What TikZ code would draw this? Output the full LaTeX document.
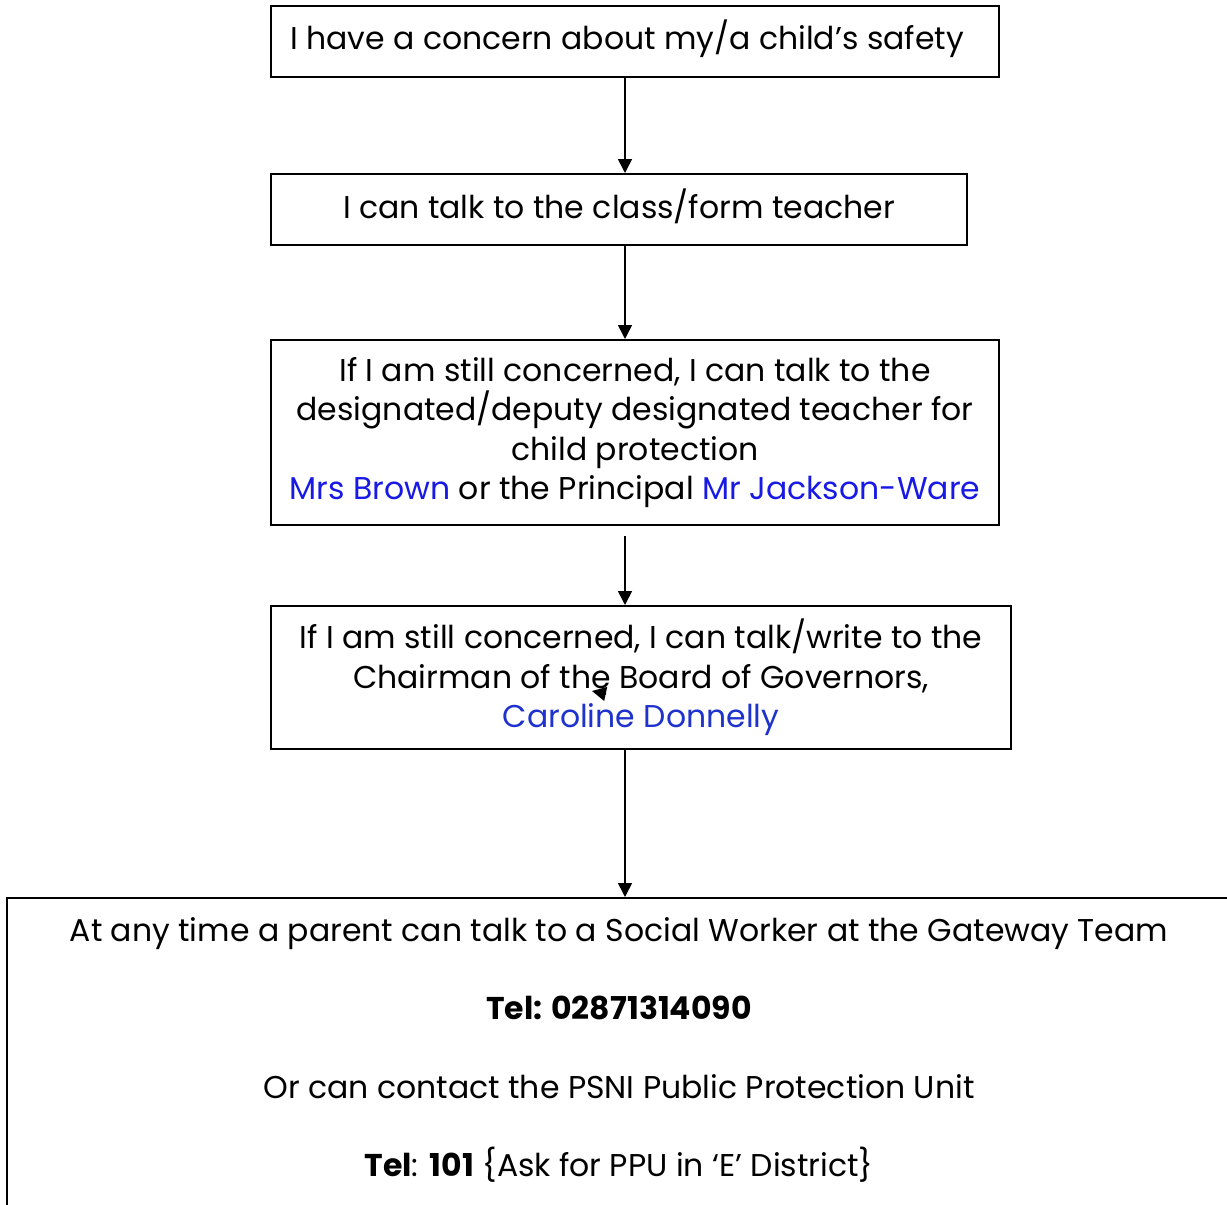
\documentclass[tikz,border=0pt]{standalone}
\usepackage{fontspec}
\setmainfont{Poppins}
\usetikzlibrary{arrows.meta}
\definecolor{namecol}{RGB}{25,25,230}
\definecolor{chaircol}{RGB}{30,50,205}

\tikzset{
  stage/.style={draw, line width=1pt, align=center, inner sep=0pt,
    font=\fontsize{15.75}{19.75}\selectfont},
  flow/.style={-{Triangle[length=7pt,width=7pt]}, line width=0.8pt},
}

\begin{document}
\begin{tikzpicture}[x=0.5pt, y=-0.5pt]
  \clip (0,0) rectangle (1227,1205);
  \coordinate (spine) at (625,0);
  % steps
  \node[stage, minimum width=364pt, minimum height=35.5pt] (concern) at (635,41.5)
    {\raisebox{1.5pt}[\height][\depth]{I have a concern about my/a child’s safety}\hspace*{8pt}};
  \node[stage, minimum width=348pt, minimum height=35.5pt] (teacher) at (619,209.5)
    {\raisebox{1.75pt}[\height][\depth]{I can talk to the class/form teacher}};
  \node[stage, minimum width=364pt, minimum height=92.5pt] (designated) at (635,432.5)
    {If I am still concerned, I can talk to the\\
     designated/deputy designated teacher for\\
     child protection\\
     \textcolor{namecol}{Mrs Brown} or the Principal \textcolor{namecol}{Mr Jackson-Ware}};
  \node[stage, minimum width=370pt, minimum height=71.5pt] (chairman) at (641,677.5)
    {If I am still concerned, I can talk/write to the\\
     Chairman of the Board of Governors,\\
     \textcolor{chaircol}{Caroline Donnelly}};
  \node[draw, line width=1pt, minimum width=616.5pt, minimum height=166pt] (gateway) at (623.5,1064) {};
  \node[align=center, inner sep=0pt, font=\fontsize{15.75}{19.75}\selectfont] (gatewaytext) at (619,1050)
    {At any time a parent can talk to a Social Worker at the Gateway Team\\[19.5pt]
     \textbf{Tel: 02871314090}\\[19.5pt]
     Or can contact the PSNI Public Protection Unit\\[19.5pt]
     \textbf{Tel}: \textbf{101} \{Ask for PPU in ‘E’ District\}};
  % arrows
  \draw[flow] (concern.south -| spine) -- (teacher.north -| spine);
  \draw[flow] (teacher.south -| spine) -- (designated.north -| spine);
  \draw[flow] ([yshift=-5pt]designated.south -| spine) -- (chairman.north -| spine);
  \draw[flow] (chairman.south -| spine) -- (gateway.north -| spine);
  \coordinate (straybase) at (606,694);
  \coordinate (straytip) at (592,691);
  \draw[flow] (straybase) -- (straytip);
\end{tikzpicture}
\end{document}
